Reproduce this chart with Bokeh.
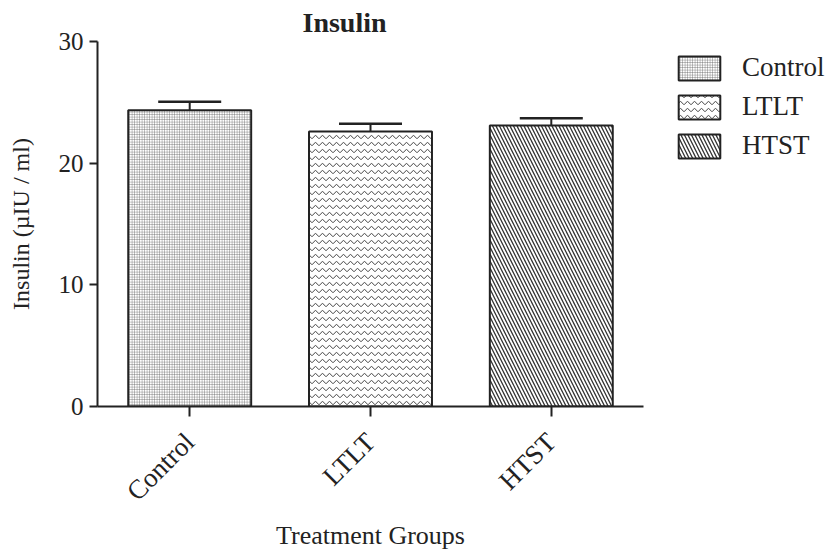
from bokeh.plotting import figure
from bokeh.models import ColumnDataSource, Whisker, TeeHead, FixedTicker, Legend, LegendItem, Title
from bokeh.embed import file_html
from bokeh.resources import INLINE
import math

groups = ["Control", "LTLT", "HTST"]
means = [24.35, 22.6, 23.1]
errors = [0.7, 0.65, 0.6]
patterns = ["cross", "horizontal_wave", "left_diagonal_line"]
scales = [2.5, 7.0, 7.0]
y_ticks = [0, 10, 20, 30]

FONT = "Liberation Serif"

xs = list(range(len(groups)))
src = ColumnDataSource(dict(
    x=xs, top=means, upper=[m + e for m, e in zip(means, errors)],
))

p = figure(frame_width=546, frame_height=365,
           output_backend="svg", toolbar_location=None,
           x_range=(-0.51, 2.51), y_range=(0, 30),
           min_border_left=97, min_border_right=0, min_border_top=34, min_border_bottom=146)
p.outline_line_color = None
p.grid.grid_line_color = None
p.background_fill_color = "white"

renderers = []
for i, g in enumerate(groups):
    r = p.vbar(x=xs[i], top=means[i], bottom=0, width=0.68,
               fill_color="white", line_color="#222222", line_width=2,
               hatch_pattern=patterns[i], hatch_scale=scales[i],
               hatch_color=["#666666", "#444444", "#333333"][i],
               hatch_weight=[0.5, 1.0, 1.3][i])
    renderers.append(r)

w = Whisker(base="x", upper="upper", lower="top", source=src, dimension="height",
            line_color="#222222", line_width=2,
            upper_head=TeeHead(size=63, line_color="#222222", line_width=2.5),
            lower_head=None)
p.add_layout(w)

# axes
p.yaxis.ticker = FixedTicker(ticks=y_ticks)
p.yaxis.minor_tick_line_color = None
p.yaxis.major_tick_out = 8
p.yaxis.major_tick_in = 0
p.yaxis.axis_line_width = 2
p.yaxis.major_tick_line_width = 2
p.yaxis.axis_line_color = "#222222"
p.yaxis.major_tick_line_color = "#222222"
p.yaxis.major_label_text_font = FONT
p.yaxis.major_label_text_font_size = "25px"
p.yaxis.major_label_text_color = "#222222"
p.yaxis.major_label_standoff = 6
p.yaxis.axis_label = "Insulin (µIU / ml)"
p.yaxis.axis_label_text_font = FONT
p.yaxis.axis_label_text_font_size = "24px"
p.yaxis.axis_label_text_font_style = "normal"
p.yaxis.axis_label_text_color = "#222222"
p.yaxis.axis_label_standoff = 22

p.xaxis.ticker = FixedTicker(ticks=xs)
p.xaxis.major_label_overrides = {i: g for i, g in enumerate(groups)}
p.xaxis.minor_tick_line_color = None
p.xaxis.major_tick_out = 10
p.xaxis.major_tick_in = 0
p.xaxis.axis_line_width = 2
p.xaxis.major_tick_line_width = 2
p.xaxis.axis_line_color = "#222222"
p.xaxis.major_tick_line_color = "#222222"
p.xaxis.major_label_orientation = math.pi / 4
p.xaxis.major_label_text_font = FONT
p.xaxis.major_label_text_font_size = "27px"
p.xaxis.major_label_text_color = "#222222"
p.xaxis.major_label_standoff = 21
p.xaxis.axis_label = "Treatment Groups"
p.xaxis.axis_label_text_font = FONT
p.xaxis.axis_label_text_font_size = "26px"
p.xaxis.axis_label_text_font_style = "normal"
p.xaxis.axis_label_text_color = "#222222"
p.xaxis.axis_label_standoff = 1

# title
p.title = Title(text="Insulin", align="left", offset=205, text_font=FONT,
                text_font_size="28px", text_font_style="bold", text_color="#222222",
                standoff=8)

# legend
items = [LegendItem(label=g, renderers=[renderers[i]]) for i, g in enumerate(groups)]
leg = Legend(items=items, location=(30, 245), glyph_width=52, glyph_height=30,
             spacing=8, label_text_font=FONT, label_text_font_size="27px",
             label_text_color="#222222", label_standoff=17, border_line_color=None,
             background_fill_alpha=0, padding=0, margin=0)
p.add_layout(leg, "right")

open("out.html", "w").write(file_html(p, INLINE))
